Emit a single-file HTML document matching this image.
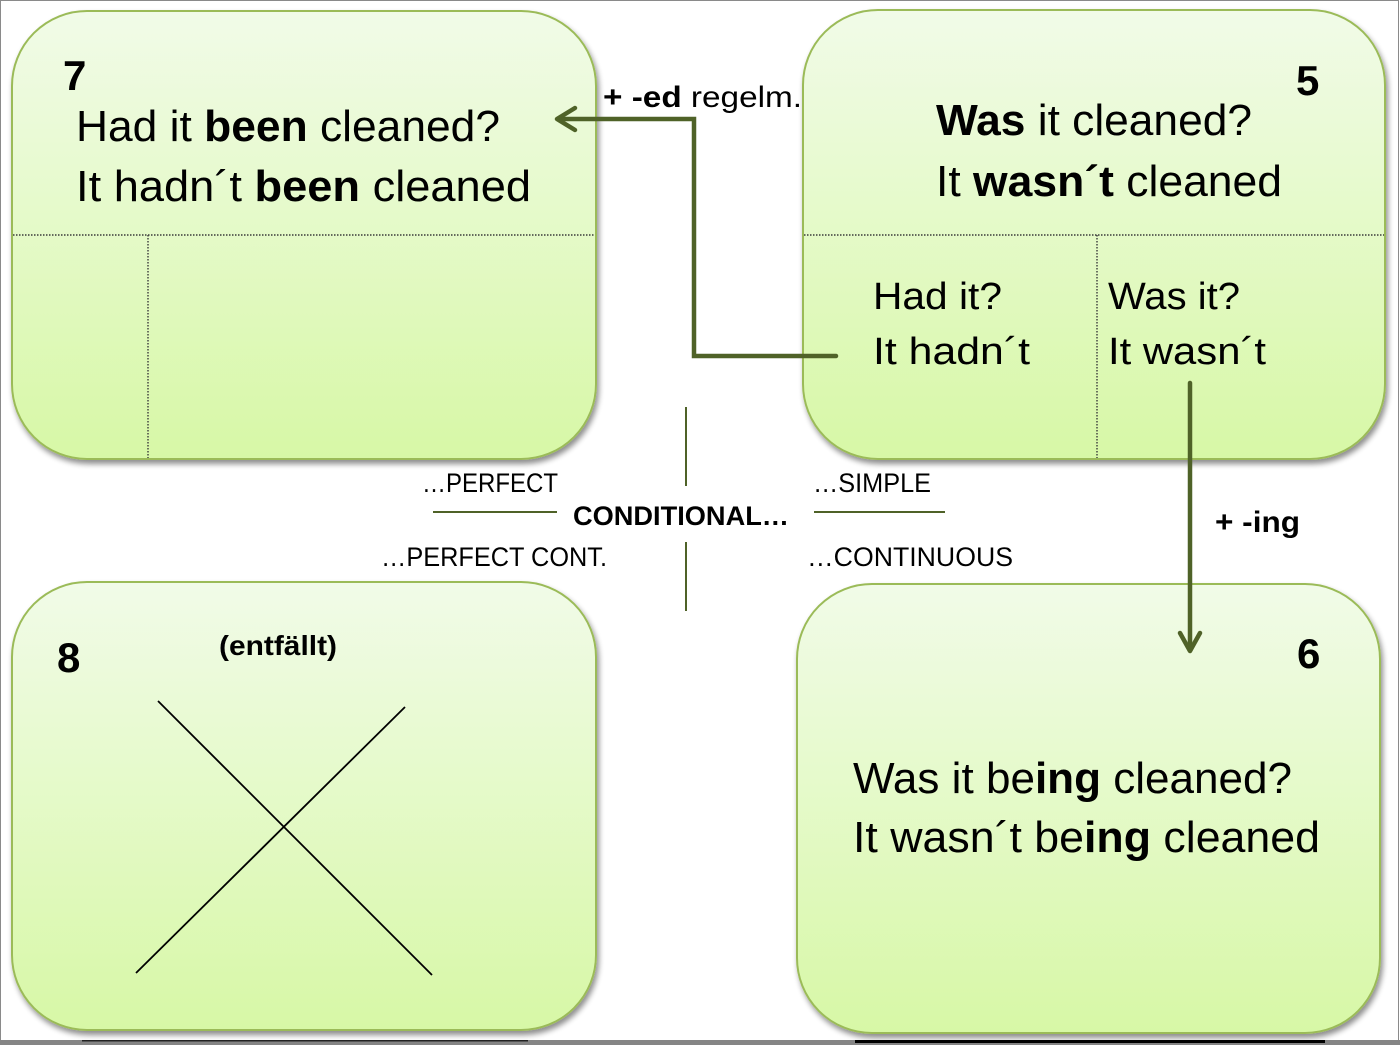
<!DOCTYPE html>
<html>
<head>
<meta charset="utf-8">
<style>
html,body{margin:0;padding:0;background:#fff;}
svg{display:block;}
text{font-family:"Liberation Sans",Arial,sans-serif;fill:#000;}
</style>
</head>
<body>
<svg width="1400" height="1045" viewBox="0 0 1400 1045" xmlns="http://www.w3.org/2000/svg">
<defs>
<linearGradient id="g" x1="0" y1="0" x2="0" y2="1">
<stop offset="0" stop-color="#f1fbe8"/>
<stop offset="1" stop-color="#d7f8a6"/>
</linearGradient>
<filter id="sh" x="-5%" y="-5%" width="112%" height="112%">
<feGaussianBlur in="SourceAlpha" stdDeviation="3"/>
<feOffset dx="2" dy="4" result="b"/>
<feComponentTransfer><feFuncA type="linear" slope="0.45"/></feComponentTransfer>
<feMerge><feMergeNode/><feMergeNode in="SourceGraphic"/></feMerge>
</filter>
</defs>

<rect x="0" y="0" width="1400" height="1045" fill="#fff"/>
<!-- frame -->
<rect x="0.5" y="0.5" width="1398" height="1044" fill="none" stroke="#8a8a8a" stroke-width="1"/>
<rect x="0" y="1040" width="1400" height="5" fill="#858585"/>
<rect x="82" y="1040" width="446" height="1.5" fill="#222"/>
<rect x="855" y="1040" width="470" height="3" fill="#000"/>

<!-- boxes -->
<rect x="12" y="11" width="584" height="448" rx="75" ry="75" fill="url(#g)" stroke="#9bbb59" stroke-width="2" filter="url(#sh)"/>
<rect x="803" y="10" width="582" height="449" rx="75" ry="75" fill="url(#g)" stroke="#9bbb59" stroke-width="2" filter="url(#sh)"/>
<rect x="12" y="582" width="584" height="448" rx="75" ry="75" fill="url(#g)" stroke="#9bbb59" stroke-width="2" filter="url(#sh)"/>
<rect x="797" y="584" width="583" height="449" rx="75" ry="75" fill="url(#g)" stroke="#9bbb59" stroke-width="2" filter="url(#sh)"/>

<!-- dotted dividers -->
<g stroke="#3a3a3a" stroke-width="1.4" stroke-dasharray="1.5,1.5" fill="none">
<line x1="13" y1="235" x2="595" y2="235"/>
<line x1="148" y1="235" x2="148" y2="458"/>
<line x1="804" y1="235" x2="1384" y2="235"/>
<line x1="1097" y1="235" x2="1097" y2="458"/>
</g>

<!-- box 7 -->
<text x="63" y="90" font-size="42" font-weight="bold">7</text>
<text x="76" y="141" font-size="44" textLength="424" lengthAdjust="spacingAndGlyphs">Had it <tspan font-weight="bold">been</tspan> cleaned?</text>
<text x="76" y="201" font-size="44" textLength="455" lengthAdjust="spacingAndGlyphs">It hadn´t <tspan font-weight="bold">been</tspan> cleaned</text>

<!-- box 5 -->
<text x="1296" y="95" font-size="42" font-weight="bold">5</text>
<text x="936" y="135" font-size="44" textLength="316" lengthAdjust="spacingAndGlyphs"><tspan font-weight="bold">Was</tspan> it cleaned?</text>
<text x="936" y="196" font-size="44" textLength="346" lengthAdjust="spacingAndGlyphs">It <tspan font-weight="bold">wasn´t</tspan> cleaned</text>
<text x="873" y="309" font-size="38" textLength="129" lengthAdjust="spacingAndGlyphs">Had it?</text>
<text x="873" y="364" font-size="38" textLength="157" lengthAdjust="spacingAndGlyphs">It hadn´t</text>
<text x="1108" y="309" font-size="38" textLength="132" lengthAdjust="spacingAndGlyphs">Was it?</text>
<text x="1108" y="364" font-size="38" textLength="158" lengthAdjust="spacingAndGlyphs">It wasn´t</text>

<!-- box 8 -->
<text x="57" y="672" font-size="42" font-weight="bold">8</text>
<text x="219" y="655" font-size="28" font-weight="bold" textLength="118" lengthAdjust="spacingAndGlyphs">(entfällt)</text>
<g stroke="#000" stroke-width="1.8">
<line x1="158" y1="701" x2="432" y2="975"/>
<line x1="405" y1="707" x2="136" y2="973"/>
</g>

<!-- box 6 -->
<text x="1297" y="668" font-size="42" font-weight="bold">6</text>
<text x="853" y="793" font-size="44" textLength="439" lengthAdjust="spacingAndGlyphs">Was it be<tspan font-weight="bold">ing</tspan> cleaned?</text>
<text x="853" y="852" font-size="44" textLength="467" lengthAdjust="spacingAndGlyphs">It wasn´t be<tspan font-weight="bold">ing</tspan> cleaned</text>

<!-- center cross -->
<g stroke="#4f6228" stroke-width="2">
<line x1="686" y1="407" x2="686" y2="486"/>
<line x1="686" y1="542" x2="686" y2="611"/>
<line x1="433" y1="512" x2="557" y2="512"/>
<line x1="814" y1="512" x2="945" y2="512"/>
</g>
<text x="422" y="492" font-size="27" textLength="136" lengthAdjust="spacingAndGlyphs">…PERFECT</text>
<text x="813" y="492" font-size="27" textLength="118" lengthAdjust="spacingAndGlyphs">…SIMPLE</text>
<text x="573" y="525" font-size="27" font-weight="bold" textLength="216" lengthAdjust="spacingAndGlyphs">CONDITIONAL…</text>
<text x="381" y="566" font-size="27" textLength="226" lengthAdjust="spacingAndGlyphs">…PERFECT CONT.</text>
<text x="807" y="566" font-size="27" textLength="206" lengthAdjust="spacingAndGlyphs">…CONTINUOUS</text>

<!-- connectors -->
<g stroke="#4f6228" stroke-width="4.5" fill="none" stroke-linecap="round" stroke-linejoin="miter">
<polyline points="836,356 694,356 694,119 558,119"/>
<polyline points="575,108 557,119 575,130" stroke-linejoin="round"/>
<line x1="1190" y1="383" x2="1190" y2="650"/>
<polyline points="1180,633 1190,651 1200,633" stroke-linejoin="round"/>
</g>
<text x="603" y="107" font-size="30" textLength="199" lengthAdjust="spacingAndGlyphs"><tspan font-weight="bold">+ -ed</tspan> regelm.</text>
<text x="1215" y="532" font-size="30" font-weight="bold" textLength="85" lengthAdjust="spacingAndGlyphs">+ -ing</text>
</svg>
</body>
</html>
